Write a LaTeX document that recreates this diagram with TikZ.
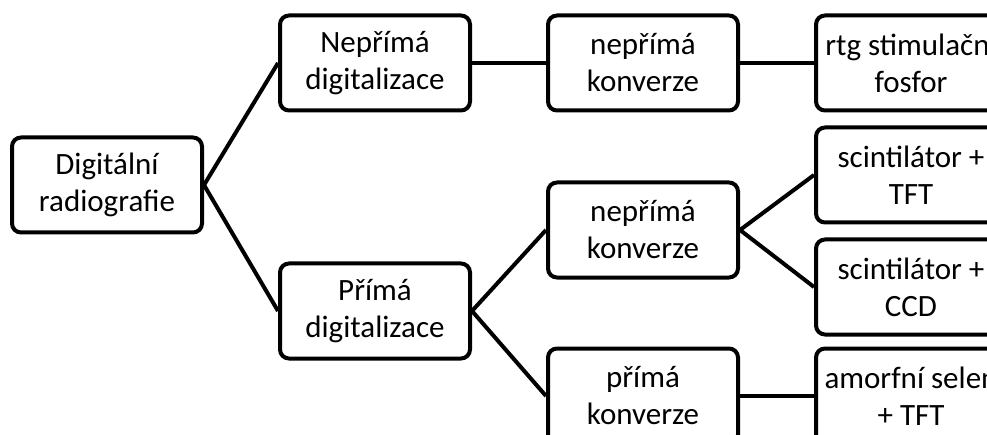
\documentclass[tikz,border=0pt]{standalone}
\usepackage{fontspec}
\setmainfont{Carlito}
\usetikzlibrary{positioning}
\tikzset{
    box/.style={draw, line width=4pt, rounded corners=9pt, minimum width=190pt,
      minimum height=95pt, align=center, inner sep=2pt,
      font=\fontsize{31pt}{37pt}\selectfont},
    link/.style={line width=4pt},
}
\begin{document}
\begin{tikzpicture}[x=1pt, y=1pt]
    \useasboundingbox (0,0) rectangle (987,434);
    \clip (0,0) rectangle (987,434);
    \fill[white] (0,0) rectangle (987,434);

    \node[box] (dr) at (107,249) {Digitální\\radiografie};
    \node[box, right=74pt of dr, yshift=122pt] (nd) {Nepřímá\\digitalizace};
    \node[box, below=149pt of nd] (pd) {Přímá\\digitalizace};

    \node[box, right=74pt of nd] (nk1) {nepřímá\\konverze};
    \node[box, right=74pt of pd, yshift=81pt] (nk2) {nepřímá\\konverze};
    \node[box, below=67pt of nk2] (pk) {přímá\\konverze};

    \node[box, right=74pt of nk1] (rtg) {rtg stimulační\\fosfor};
    \node[box, right=74pt of nk2, yshift=55pt] (st) {scintilátor +\\TFT};
    \node[box, below=13pt of st] (sc) {scintilátor +\\CCD};
    \node[box, right=74pt of pk] (as) {amorfní selen\\+ TFT};

    \draw[link] (dr.east) -- (nd.west);
    \draw[link] (dr.east) -- (pd.west);
    \draw[link] (nd) -- (nk1);
    \draw[link] (nk1) -- (rtg);
    \draw[link] (pd.east) -- (nk2.west);
    \draw[link] (pd.east) -- (pk.west);
    \draw[link] (nk2.east) -- (st.west);
    \draw[link] (nk2.east) -- (sc.west);
    \draw[link] (pk) -- (as);
\end{tikzpicture}
\end{document}
